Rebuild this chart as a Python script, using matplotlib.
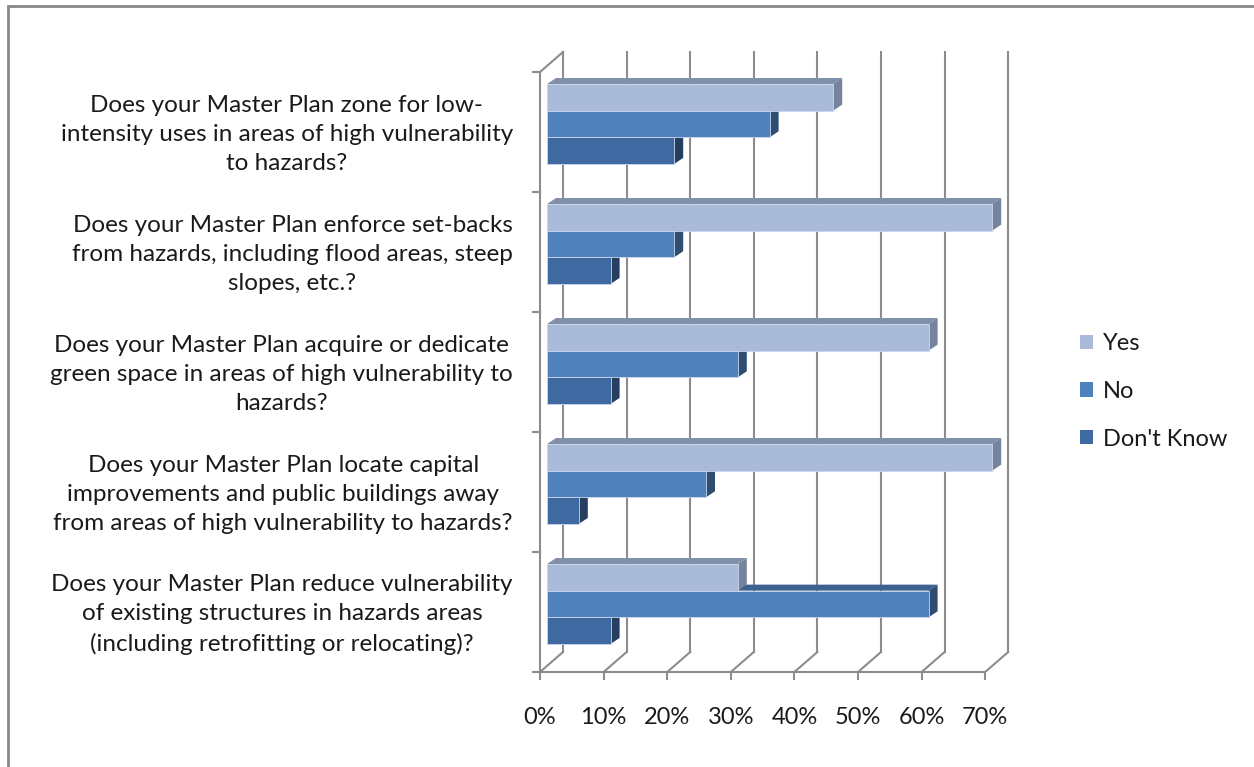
import matplotlib.pyplot as plt
from matplotlib.patches import Polygon, Rectangle, Patch

categories = [
    "Does your Master Plan zone for low-\nintensity uses in areas of high vulnerability\nto hazards?",
    "Does your Master Plan enforce set-backs\nfrom hazards, including flood areas, steep\nslopes, etc.?",
    "Does your Master Plan acquire or dedicate\ngreen space in areas of high vulnerability to\nhazards?",
    "Does your Master Plan locate capital\nimprovements and public buildings away\nfrom areas of high vulnerability to hazards?",
    "Does your Master Plan reduce vulnerability\nof existing structures in hazards areas\n(including retrofitting or relocating)?",
]
series = ["Yes", "No", "Don't Know"]
yes = [45, 70, 60, 70, 30]
no = [35, 20, 30, 25, 60]
dont_know = [20, 10, 10, 5, 10]
ticks = [0, 10, 20, 30, 40, 50, 60, 70]

front = ["#aabbd9", "#4f81bd", "#3e6aa1"]
side = ["#75839c", "#2f4d71", "#253f60"]
top = ["#8190aa", "#3d6290", "#30527a"]
grid_c = "#8c8c8c"

# pixel scale helpers (x: percent, y: category units)
PX = 6.36
PY = 120.0
DX, DY = 23 / PX, 20 / PY        # wall depth
BX0 = 7 / PX                     # bar plane shift
BDX, BDY = 9 / PX, 6 / PY        # bar depth
BH = 0.222

plt.rcParams['font.family'] = ['Lato', 'DejaVu Sans']
fig = plt.figure(figsize=(12.54, 7.67), dpi=100)
ax = fig.add_axes([0, 0, 1, 1])
ax.set_xlim(-540 / PX, (1254 - 540) / PX)
ax.set_ylim(-(767 - 672) / PY, 672 / PY)
ax.axis('off')

# outer frame
ax.add_patch(Rectangle((-532 / PX, -2), 300, (672 - 6) / PY + 2, fill=False,
                       ec="#888888", lw=2, zorder=0))

n = len(categories)
xmax = ticks[-1]
# walls and grid
for t in ticks:
    ax.plot([t + DX, t + DX], [DY, n + DY], color=grid_c, lw=1.5, zorder=1)
    ax.plot([t, t], [0, -7 / PY], color=grid_c, lw=1.5, zorder=1)
    ax.plot([t, t + DX], [0, DY], color=grid_c, lw=1.5, zorder=1)
    ax.text(t, -0.375, f"{t}%", ha='center', va='center', fontsize=17, color="#1a1a1a")
ax.plot([0, xmax], [0, 0], color=grid_c, lw=1.5, zorder=1)
ax.plot([0, 0], [0, n], color=grid_c, lw=1.5, zorder=1)
ax.plot([0, DX], [n, n + DY], color=grid_c, lw=1.5, zorder=1)
for k in range(n + 1):
    ax.plot([-7 / PX, 0], [k, k], color=grid_c, lw=1.5, zorder=1)

# bars
values = [yes, no, dont_know]
for i, cat in enumerate(categories):
    base = n - 1 - i
    ax.text(-4.25, base + 0.48, cat, ha='right', va='center', multialignment='center',
            fontsize=17.5, linespacing=1.48, color="#1a1a1a")
    for s in [2, 1, 0]:
        v = values[s][i]
        y1 = base + 0.9 - s * BH
        y0 = y1 - BH
        x0, x1 = BX0, BX0 + v
        ax.add_patch(Polygon([(x0, y1), (x1, y1), (x1 + BDX, y1 + BDY), (x0 + BDX, y1 + BDY)],
                             closed=True, fc=top[s], ec='none', zorder=2 + (3 - s)))
        ax.add_patch(Polygon([(x1, y0), (x1 + BDX, y0 + BDY), (x1 + BDX, y1 + BDY), (x1, y1)],
                             closed=True, fc=side[s], ec='none', zorder=2 + (3 - s)))
        ax.barh(y0 + BH / 2, v, height=BH, left=x0, color=front[s],
                edgecolor="#c9d5ea", linewidth=0.6, zorder=2 + (3 - s))

handles = [Patch(fc=front[s], ec='none') for s in range(3)]
fig.legend(handles, series, loc='upper left', bbox_to_anchor=(1059 / 1254, 1 - 312 / 767),
           frameon=False, fontsize=17, handlelength=0.55, handleheight=0.55,
           handletextpad=0.4, labelspacing=1.13, labelcolor="#1a1a1a")

fig.savefig("out.png", dpi=100)
